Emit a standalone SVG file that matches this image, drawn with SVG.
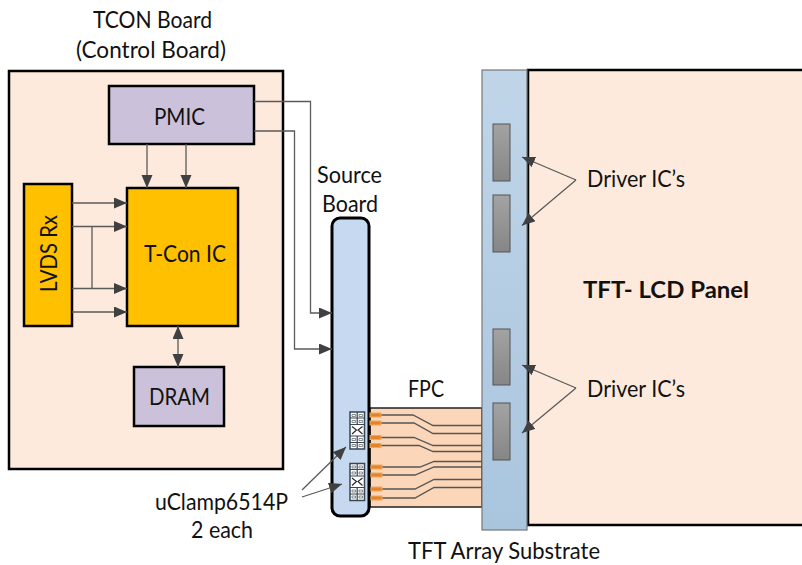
<svg xmlns="http://www.w3.org/2000/svg" width="802" height="565" viewBox="0 0 802 565">
<defs>
<linearGradient id="sub" x1="0" y1="0" x2="0" y2="1"><stop offset="0" stop-color="#c0d5e8"/><stop offset="1" stop-color="#a9c5de"/></linearGradient>
<linearGradient id="chip" x1="0" y1="0" x2="0" y2="1"><stop offset="0" stop-color="#a3a3a3"/><stop offset="1" stop-color="#868686"/></linearGradient>
<marker id="ah" markerUnits="userSpaceOnUse" markerWidth="14" markerHeight="12" refX="13" refY="5.500" orient="auto-start-reverse"><path d="M0 0L13 5.500L0 11z" fill="#404040"/></marker>
<g id="clamp"><rect x="0" y="0" width="14.500" height="37" fill="#fff" stroke="#3a4650" stroke-width="1.500"/><path d="M0 6H14.500M0 12.500H14.500M0 24H14.500M0 30.500H14.500M7.200 0V12.500M7.200 24V37" stroke="#3a4650" stroke-width="1.200" fill="none"/><path d="M2 2.500h3.500v2h-3.500zM9 2.500h3.500v2h-3.500zM2 8.500h3.500v2h-3.500zM9 8.500h3.500v2h-3.500zM2 26.500h3.500v2h-3.500zM9 26.500h3.500v2h-3.500zM2 32.500h3.500v2h-3.500zM9 32.500h3.500v2h-3.500z" fill="#fff" stroke="#3a4650" stroke-width=".6"/><path d="M2 14.500L6.500 18L2 22M12.500 14.500L8 18L12.500 22" fill="none" stroke="#222" stroke-width="1.100"/></g>
</defs>
<style>
text{font-family:"Lato","Liberation Sans",sans-serif;font-size:22.500px;fill:#111}
.b{stroke:#000;stroke-width:2.5}
.c{fill:none;stroke:#5a5a5a;stroke-width:1.3}
.a{marker-end:url(#ah)}
.f{fill:none;stroke:#555;stroke-width:1.3}
.t{fill:#e3842a;stroke:#f0a860;stroke-width:1}
.k{fill:url(#chip);stroke:#555;stroke-width:1}
</style>
<g id="tcon-board"><rect class="b" x="9" y="71" width="274" height="398" fill="#fdeadc"/><text x="93" y="28" textLength="119" lengthAdjust="spacingAndGlyphs">TCON Board</text><text x="76" y="58" textLength="150" lengthAdjust="spacingAndGlyphs">(Control Board)</text></g>
<g id="panel"><rect class="b" x="528" y="70" width="276" height="455" fill="#fdeadc"/><text x="583" y="298" textLength="166" lengthAdjust="spacingAndGlyphs" style="font-weight:700">TFT- LCD Panel</text></g>
<g id="fpc"><rect x="370" y="408" width="112" height="99" fill="#fbd6b8" stroke="#222" stroke-width="1.500"/><text x="408" y="397" textLength="36" lengthAdjust="spacingAndGlyphs">FPC</text></g>
<g id="substrate"><rect x="482" y="70" width="45" height="460" fill="url(#sub)" stroke="#777" stroke-width="1.200"/><text x="408" y="559" textLength="192" lengthAdjust="spacingAndGlyphs">TFT Array Substrate</text></g>
<g id="pmic"><rect class="b" x="109" y="86" width="145" height="58" fill="#ccc1da"/><text x="154" y="125" textLength="51" lengthAdjust="spacingAndGlyphs">PMIC</text></g>
<g id="tcon-ic"><rect class="b" x="127" y="188" width="111" height="138" fill="#ffc000"/><text x="144" y="262" textLength="82" lengthAdjust="spacingAndGlyphs">T-Con IC</text></g>
<g id="lvds"><rect class="b" x="24" y="184" width="48" height="142" fill="#ffc000"/><text transform="translate(57 292) rotate(-90)" textLength="77" lengthAdjust="spacingAndGlyphs">LVDS Rx</text></g>
<g id="dram"><rect class="b" x="134" y="367" width="90" height="59" fill="#ccc1da"/><text x="149" y="405" textLength="61" lengthAdjust="spacingAndGlyphs">DRAM</text></g>
<g id="source-board"><rect x="332" y="218" width="37" height="298" rx="8" fill="#c6d9f1" stroke="#000" stroke-width="3"/><text x="317" y="183" textLength="65" lengthAdjust="spacingAndGlyphs">Source</text><text x="322" y="212" textLength="56" lengthAdjust="spacingAndGlyphs">Board</text></g>
<g id="driver-ics"><rect class="k" x="493" y="124" width="17" height="57"/><rect class="k" x="493" y="195" width="17" height="57"/><rect class="k" x="493" y="329" width="17" height="56"/><rect class="k" x="493" y="403" width="17" height="57"/><text x="587" y="187" textLength="98" lengthAdjust="spacingAndGlyphs">Driver IC’s</text><text x="587" y="397" textLength="98" lengthAdjust="spacingAndGlyphs">Driver IC’s</text></g>
<g id="uclamp">
<text x="155" y="510" textLength="133" lengthAdjust="spacingAndGlyphs">uClamp6514P</text><text x="191" y="538" textLength="62" lengthAdjust="spacingAndGlyphs">2 each</text>
<use id="clamp-1" href="#clamp" x="350" y="412"/>
<use id="clamp-2" href="#clamp" x="350" y="463.500"/>
</g>
<g id="connectors">
<path class="c a" d="M254 101.500H310.500V313H332"/>
<path class="c a" d="M254 131H294.500V349H332"/>
<path class="c a" d="M147 144V188"/>
<path class="c a" d="M186 144V188"/>
<path class="c a" d="M72 203H127"/>
<path class="c a" d="M72 226.500H127"/>
<path class="c a" d="M72 288.500H127"/>
<path class="c a" d="M72 312H127"/>
<path class="c" d="M92 226.500V288.500"/>
<path class="c a" d="M178 326V367" style="marker-start:url(#ah)"/>
<path class="c a" d="M576 180L522 157"/>
<path class="c a" d="M576 180L522 225.500"/>
<path class="c a" d="M576 388L522 365"/>
<path class="c a" d="M576 388L522 433"/>
<path class="c a" d="M302 490L346 447"/>
<path class="c a" d="M302 497L342 484"/>
<path class="f" d="M370 415H413L433 425.500H482"/>
<path class="f" d="M370 423H414L433 433.500H482"/>
<path class="f" d="M370 437.500H414L433 445.500H482"/>
<path class="f" d="M370 445.500H419L433 451.500H482"/>
<path class="f" d="M370 467H420L434 461.500H482"/>
<path class="f" d="M370 475H415L434 467H482"/>
<path class="f" d="M370 489H415L434 479.500H482"/>
<path class="f" d="M370 498H415L434 487.500H482"/>
<rect class="t" x="370" y="413" width="11" height="4"/>
<rect class="t" x="370" y="421" width="11" height="4"/>
<rect class="t" x="370" y="435.500" width="11" height="4"/>
<rect class="t" x="370" y="443.500" width="11" height="4"/>
<rect class="t" x="371" y="465" width="11" height="4"/>
<rect class="t" x="371" y="473" width="11" height="4"/>
<rect class="t" x="371" y="487" width="11" height="4"/>
<rect class="t" x="371" y="496" width="11" height="4"/>
</g>
</svg>
